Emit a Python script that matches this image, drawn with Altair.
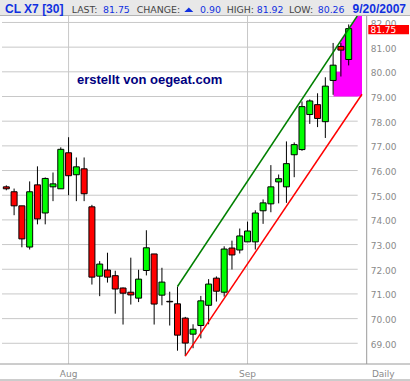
import altair as alt
import pandas as pd

# ---------------- data ----------------
opens = [75.34, 75.14, 74.57, 72.90, 75.42, 74.28, 75.34, 75.26, 76.72, 75.83,
         76.07, 74.53, 71.72, 71.97, 71.74, 71.24, 71.07, 70.83, 71.95, 72.62,
         70.95, 70.70, 70.60, 70.02, 69.37, 69.72, 70.54, 71.64, 71.07, 72.86,
         72.78, 73.11, 73.11, 74.37, 74.65, 75.54, 75.34, 76.64, 76.85, 78.27,
         78.67, 77.98, 79.65, 81.03, 80.50]
highs = [75.40, 75.27, 74.57, 75.56, 76.17, 75.72, 75.92, 76.94, 77.35, 76.53,
         76.53, 74.61, 72.33, 72.67, 71.94, 71.26, 72.47, 71.98, 73.58, 72.62,
         72.06, 71.09, 71.30, 70.07, 69.77, 70.92, 71.60, 71.71, 72.93, 73.16,
         73.65, 73.93, 74.39, 74.83, 76.22, 75.84, 77.18, 77.14, 78.80, 78.88,
         79.13, 79.78, 81.17, 81.17, 81.92]
lows = [75.20, 74.19, 72.89, 72.80, 73.82, 73.82, 74.76, 75.26, 75.00, 74.76,
        74.76, 71.38, 70.91, 71.46, 70.20, 69.76, 70.57, 70.67, 71.75, 69.76,
        70.54, 69.72, 68.70, 68.48, 68.80, 69.20, 69.77, 70.69, 70.89, 71.99,
        72.64, 73.11, 72.80, 73.84, 74.31, 74.67, 74.69, 75.73, 76.80, 77.89,
        77.76, 77.32, 79.07, 79.81, 80.26]
closes = [75.26, 74.57, 73.23, 75.14, 74.04, 75.68, 75.46, 76.86, 75.79, 76.15,
          75.06, 71.68, 72.21, 71.68, 71.20, 71.03, 70.96, 71.60, 72.87, 70.59,
          71.48, 70.68, 69.33, 69.01, 69.57, 70.72, 71.40, 71.11, 72.82, 72.58,
          73.35, 73.55, 74.28, 74.69, 75.34, 75.67, 76.28, 77.05, 78.59, 78.82,
          78.11, 79.42, 80.27, 80.88, 81.75]

month_labels = ["Aug", "Sep"]
month_index = [8, 31]
price_ticks = [69, 70, 71, 72, 73, 74, 75, 76, 77, 78, 79, 80, 81, 82]

upper_trend_x = [22, 45.1]
upper_trend_y = [71.30, 82.262]
lower_trend_x = [23, 45.7125]
lower_trend_y = [68.48, 79.09]

zone_x = [42.05, 42.9, 42.901, 45.1, 45.7125]
zone_top = [80.0, 80.0, 81.22, 82.262, 82.262]
zone_bottom = 79.0

symbol = "CL X7 [30]"
last_value = 81.75
change_value = 0.90
high_value = 81.92
low_value = 80.26
date_label = "9/20/2007"
period_label = "Daily"
credit_text = "erstellt von oegeat.com"

# ---------------- tables ----------------
candles = pd.DataFrame({
    "idx": list(range(len(opens))),
    "open": opens, "high": highs, "low": lows, "close": closes,
})
candles["dir"] = ["up" if c >= o else "down" for o, c in zip(opens, closes)]

xs = alt.Scale(domain=[0.0875, 45.7125], nice=False, zero=False)
ys = alt.Scale(domain=[68.161, 82.262], nice=False, zero=False)

one = pd.DataFrame({"a": [0]})

GRID = "#c8c8c8"
AXIS = "#9a9a9a"
LABEL = "#8a8a8a"
BLUE = "#1030e0"
DARKTXT = "#444444"

# grid lines
hgrid = alt.Chart(pd.DataFrame({"p": price_ticks})).mark_rule(color=GRID, strokeWidth=1).encode(
    y=alt.Y("p:Q", scale=ys, axis=None),
    x=alt.value(0), x2=alt.value(355.7))
vgrid = alt.Chart(pd.DataFrame({"idx": month_index, "label": month_labels})).mark_rule(
    color=GRID, strokeWidth=1).encode(
    x=alt.X("idx:Q", scale=xs, axis=None), y=alt.value(0), y2=alt.value(348))

# projection zone
zone = alt.Chart(pd.DataFrame({"x": zone_x, "top": zone_top,
                               "bottom": [zone_bottom] * len(zone_x)})).mark_area(
    color="#ff00ff", opacity=1, clip=True, interpolate="linear").encode(
    x=alt.X("x:Q", scale=xs, axis=None),
    y=alt.Y("top:Q", scale=ys, axis=None),
    y2="bottom:Q")

# candles
wicks = alt.Chart(candles).mark_rule(color="black", strokeWidth=1, clip=True).encode(
    x=alt.X("idx:Q", scale=xs, axis=None),
    y=alt.Y("low:Q", scale=ys, axis=None),
    y2="high:Q")
bodies = alt.Chart(candles).mark_bar(size=6, stroke="black", strokeWidth=1, clip=True).encode(
    x=alt.X("idx:Q", scale=xs, axis=None),
    y=alt.Y("open:Q", scale=ys, axis=None),
    y2="close:Q",
    color=alt.Color("dir:N", scale=alt.Scale(domain=["up", "down"], range=["#00ff00", "#ff0000"]),
                    legend=None))

# trend lines
upper = alt.Chart(pd.DataFrame({"x": upper_trend_x, "y": upper_trend_y})).mark_line(
    color="#008000", strokeWidth=1.5, clip=True).encode(
    x=alt.X("x:Q", scale=xs, axis=None), y=alt.Y("y:Q", scale=ys, axis=None))
lower = alt.Chart(pd.DataFrame({"x": lower_trend_x, "y": lower_trend_y})).mark_line(
    color="#ff0000", strokeWidth=1.5, clip=True).encode(
    x=alt.X("x:Q", scale=xs, axis=None), y=alt.Y("y:Q", scale=ys, axis=None))

# frame lines
right_axis = alt.Chart(one).mark_rule(color=AXIS, strokeWidth=1).encode(
    x=alt.value(364.7), y=alt.value(0), y2=alt.value(348))
bottom_axis = alt.Chart(one).mark_rule(color=AXIS, strokeWidth=1).encode(
    x=alt.value(-2), x2=alt.value(408), y=alt.value(348))
bottom_border = alt.Chart(one).mark_rule(color=AXIS, strokeWidth=1).encode(
    x=alt.value(-2), x2=alt.value(408), y=alt.value(364))

# axis labels
ylabels = alt.Chart(pd.DataFrame({"p": price_ticks})).transform_calculate(
    lab="format(datum.p, '.2f')").mark_text(
    align="left", baseline="middle", font="DejaVu Sans", fontSize=9, color=LABEL, dy=1.5).encode(
    x=alt.value(368.7), y=alt.Y("p:Q", scale=ys, axis=None), text="lab:N")
xlabels = alt.Chart(pd.DataFrame({"idx": month_index, "label": month_labels})).mark_text(
    align="center", baseline="middle", font="DejaVu Sans", fontSize=9, color=LABEL).encode(
    x=alt.X("idx:Q", scale=xs, axis=None), y=alt.value(358.3), text="label:N")
period = alt.Chart(pd.DataFrame({"t": [period_label]})).mark_text(
    align="center", baseline="middle", font="DejaVu Sans", fontSize=9, color=LABEL).encode(
    x=alt.value(381.3), y=alt.value(358.3), text="t:N")

# last price tag
tag_box = alt.Chart(one).mark_rect(color="#ff0000").encode(
    x=alt.value(366.3), x2=alt.value(407), y=alt.value(9), y2=alt.value(18.3))
tag_text = alt.Chart(pd.DataFrame({"t": [f"{last_value:.2f}"]})).mark_text(
    align="left", baseline="middle", font="DejaVu Sans", fontSize=9, color="white").encode(
    x=alt.value(368.5), y=alt.value(13.9), text="t:N")

# credit text
credit = alt.Chart(pd.DataFrame({"t": [credit_text]})).mark_text(
    align="left", baseline="alphabetic", font="Liberation Sans", fontSize=13,
    fontWeight="bold", color="#000080").encode(
    x=alt.value(75), y=alt.value(67.5), text="t:N")

# header
header_bg = alt.Chart(one).mark_rect(color="#e8e8e8").encode(
    x=alt.value(-2), x2=alt.value(408), y=alt.value(-16), y2=alt.value(-1))
header_line = alt.Chart(one).mark_rule(color="#b4b4b4", strokeWidth=1).encode(
    x=alt.value(-2), x2=alt.value(408), y=alt.value(-0.5))

header_items = [
    (symbol, 3, "left", "bold", 12, "Liberation Sans", BLUE),
    ("LAST:", 69.7, "left", "normal", 9.4, "DejaVu Sans", DARKTXT),
    (f"{last_value:.2f}", 101, "left", "normal", 9.4, "DejaVu Sans", BLUE),
    ("CHANGE:", 134.7, "left", "normal", 9.4, "DejaVu Sans", DARKTXT),
    (f"{change_value:.2f}", 198, "left", "normal", 9.4, "DejaVu Sans", BLUE),
    ("HIGH:", 224.7, "left", "normal", 9.4, "DejaVu Sans", DARKTXT),
    (f"{high_value:.2f}", 254.7, "left", "normal", 9.4, "DejaVu Sans", BLUE),
    ("LOW:", 287, "left", "normal", 9.4, "DejaVu Sans", DARKTXT),
    (f"{low_value:.2f}", 315.7, "left", "normal", 9.4, "DejaVu Sans", BLUE),
    (date_label, 404, "right", "bold", 12, "Liberation Sans", BLUE),
]
header_texts = []
for txt, xpos, al, fw, fs, fnt, col in header_items:
    header_texts.append(
        alt.Chart(pd.DataFrame({"t": [txt]})).mark_text(
            align=al, baseline="alphabetic", font=fnt, fontSize=fs, fontWeight=fw, color=col
        ).encode(x=alt.value(xpos), y=alt.value(-3.3), text="t:N"))

arrow = alt.Chart(one).mark_point(
    shape="M -1 0.5 L 1 0.5 L 0 -0.5 Z", size=81, filled=True, color=BLUE, opacity=1,
    strokeWidth=0).encode(x=alt.value(186.8), y=alt.value(-6.3))

chart = alt.layer(
    hgrid, vgrid, zone, wicks, bodies, upper, lower,
    right_axis, bottom_axis, bottom_border,
    ylabels, tag_box, tag_text, xlabels, period, credit,
    header_bg, header_line, *header_texts, arrow,
).properties(
    width=365, height=348,
    padding={"left": 2, "top": 16, "right": 43, "bottom": 17},
    autosize=alt.AutoSizeParams(type="none"),
    background="white",
).configure_view(stroke=None)

chart.save("out.html", embed_options={"renderer": "svg", "actions": False})
